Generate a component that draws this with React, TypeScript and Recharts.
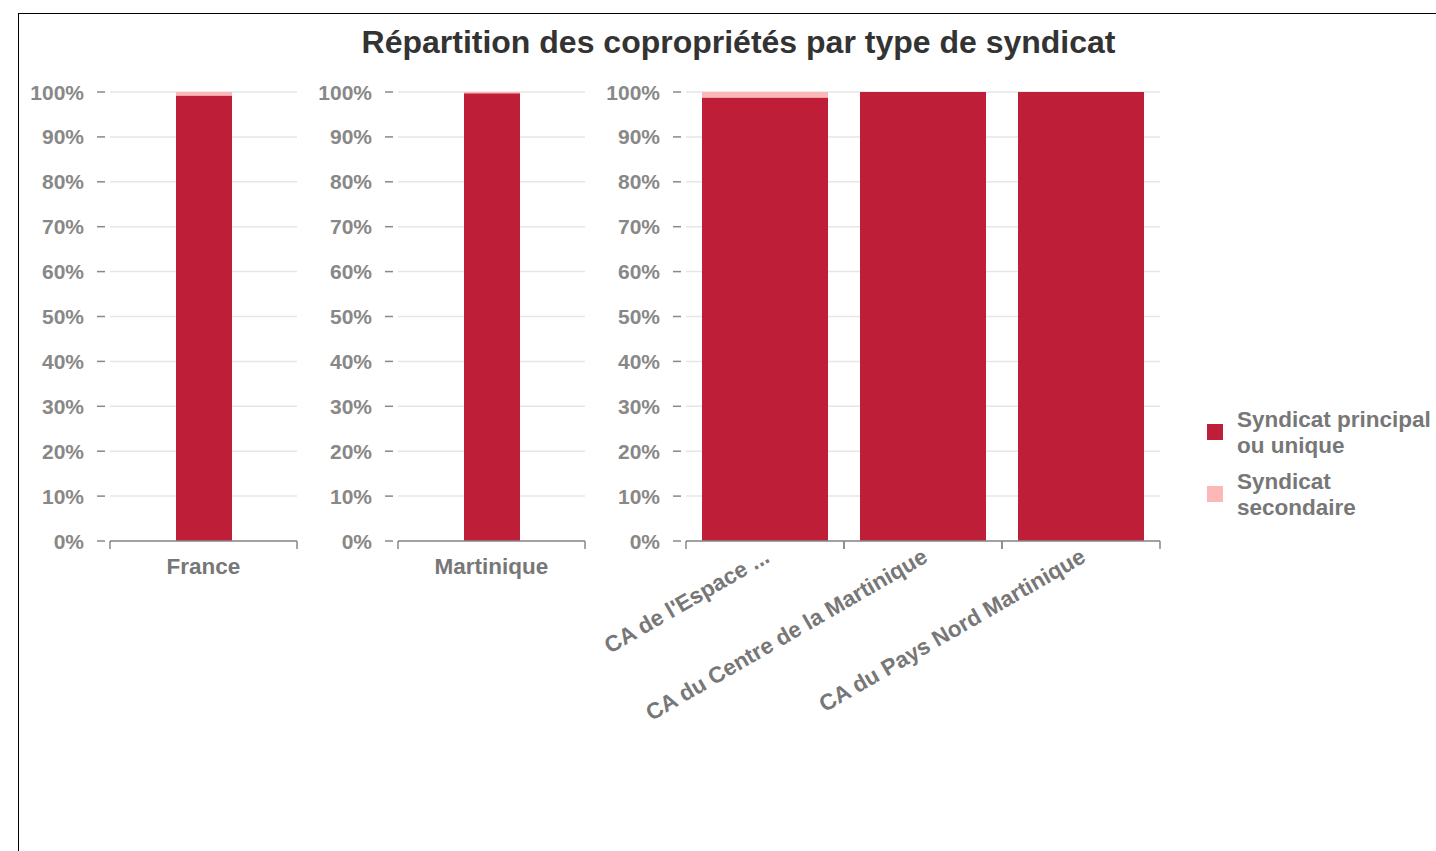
import React from "react";
import { BarChart, Bar, XAxis, YAxis, CartesianGrid } from "recharts";

// ---- Data ----
const franceCategories = ["France"];
const francePrincipal = [99.2];
const franceSecondaire = [0.8];

const martiniqueCategories = ["Martinique"];
const martiniquePrincipal = [99.7];
const martiniqueSecondaire = [0.3];

const epciCategories = ["CA de l'Espace ...", "CA du Centre de la Martinique", "CA du Pays Nord Martinique"];
const epciPrincipal = [98.8, 100, 100];
const epciSecondaire = [1.2, 0, 0];

const yTicks = [0, 10, 20, 30, 40, 50, 60, 70, 80, 90, 100];
const titleText = "Répartition des copropriétés par type de syndicat";
const seriesNames = ["Syndicat principal ou unique", "Syndicat secondaire"];
const legendLines = [["Syndicat principal", "ou unique"], ["Syndicat", "secondaire"]];

const COLOR_PRINCIPAL = "#be1e37";
const COLOR_SECONDAIRE = "#fcb8b8";
const FONT = "'Liberation Sans', Arial, sans-serif";

const build = (cats: string[], p: number[], s: number[]) =>
  cats.map((name, i) => ({ name, principal: p[i], secondaire: s[i] }));

const YTick = (props: any) => {
  const { x, y, payload } = props;
  return (
    <g>
      <line x1={x - 13} x2={x - 5} y1={y} y2={y} stroke="#888" strokeWidth={1.5} />
      <text
        x={x - 26}
        y={y}
        textAnchor="end"
        dominantBaseline="central"
        fill="#888"
        fontSize={21}
        fontWeight="bold"
        fontFamily={FONT}
      >
        {payload.value + "%"}
      </text>
    </g>
  );
};

const makeXTick = (band: number, rotate: boolean) => (props: any) => {
  const { x, y, payload } = props;
  return (
    <g>
      <line x1={x - band / 2} x2={x - band / 2} y1={y} y2={y + 8} stroke="#888" strokeWidth={1.5} />
      <line x1={x + band / 2} x2={x + band / 2} y1={y} y2={y + 8} stroke="#888" strokeWidth={1.5} />
      {rotate ? (
        <text
          x={x + 6}
          y={y + 20}
          textAnchor="end"
          transform={`rotate(-30, ${x + 6}, ${y + 20})`}
          fill="#777"
          fontSize={22.5}
          fontWeight="bold"
          fontFamily={FONT}
        >
          {payload.value}
        </text>
      ) : (
        <text
          x={x}
          y={y + 33}
          textAnchor="middle"
          fill="#777"
          fontSize={22.5}
          fontWeight="bold"
          fontFamily={FONT}
        >
          {payload.value}
        </text>
      )}
    </g>
  );
};

const PLOT_TOP = 92;
const PLOT_H = 449;
const Y_W = 100;

const Panel = ({ data, plotLeft, plotWidth, barSize, rotate, xHeight }: any) => {
  const band = plotWidth / data.length;
  return (
    <div style={{ position: "absolute", left: plotLeft - Y_W, top: PLOT_TOP - 10 }}>
      <BarChart
        width={plotWidth + Y_W + 10}
        height={10 + PLOT_H + xHeight}
        data={data}
        margin={{ top: 10, right: 10, left: 0, bottom: 0 }}
        style={{ overflow: "visible" }}
      >
        <CartesianGrid vertical={false} stroke="#e6e6e6" strokeWidth={1.5} />
        <YAxis
          type="number"
          domain={[0, 100]}
          ticks={yTicks}
          width={Y_W}
          axisLine={false}
          tickLine={false}
          tickSize={0}
          tickMargin={0}
          interval={0}
          tick={<YTick />}
        />
        <XAxis
          dataKey="name"
          height={xHeight}
          axisLine={{ stroke: "#888", strokeWidth: 1.5 }}
          tickLine={false}
          tickSize={0}
          tickMargin={0}
          interval={0}
          tick={makeXTick(band, rotate)}
        />
        <Bar
          dataKey="principal"
          name={seriesNames[0]}
          stackId="a"
          fill={COLOR_PRINCIPAL}
          barSize={barSize}
          isAnimationActive={false}
        />
        <Bar
          dataKey="secondaire"
          name={seriesNames[1]}
          stackId="a"
          fill={COLOR_SECONDAIRE}
          barSize={barSize}
          isAnimationActive={false}
        />
      </BarChart>
    </div>
  );
};

export default function App() {
  const franceData = build(franceCategories, francePrincipal, franceSecondaire);
  const martiniqueData = build(martiniqueCategories, martiniquePrincipal, martiniqueSecondaire);
  const epciData = build(epciCategories, epciPrincipal, epciSecondaire);
  const legendColors = [COLOR_PRINCIPAL, COLOR_SECONDAIRE];
  return (
    <div
      style={{
        position: "absolute",
        left: 0,
        top: 0,
        width: 1436,
        height: 851,
        overflow: "hidden",
        background: "#fff",
        fontFamily: FONT,
      }}
    >
      <div
        style={{
          position: "absolute",
          left: 18,
          top: 13,
          width: 1418,
          height: 838,
          borderTop: "1px solid #000",
          borderLeft: "1px solid #000",
        }}
      />
      <div
        style={{
          position: "absolute",
          left: 0,
          top: 22,
          width: 1477,
          height: 40,
          lineHeight: "40px",
          textAlign: "center",
          fontSize: 32,
          fontWeight: "bold",
          color: "#333",
        }}
      >
        {titleText}
      </div>
      <Panel data={franceData} plotLeft={110} plotWidth={187} barSize={56} rotate={false} xHeight={60} />
      <Panel data={martiniqueData} plotLeft={398} plotWidth={187} barSize={56} rotate={false} xHeight={60} />
      <Panel data={epciData} plotLeft={686} plotWidth={474} barSize={126} rotate={true} xHeight={220} />
      {legendLines.map((lines, i) => (
        <div key={i} style={{ position: "absolute", left: 1207, top: 407 + i * 62 }}>
          <div
            style={{
              position: "absolute",
              left: 0,
              top: 17,
              width: 16,
              height: 16,
              background: legendColors[i],
            }}
          />
          <div
            style={{
              position: "absolute",
              left: 30,
              top: 0,
              whiteSpace: "nowrap",
              fontSize: 22.5,
              lineHeight: "26px",
              fontWeight: "bold",
              color: "#777",
            }}
          >
            {lines.map((l, j) => (
              <div key={j}>{l}</div>
            ))}
          </div>
        </div>
      ))}
    </div>
  );
}
